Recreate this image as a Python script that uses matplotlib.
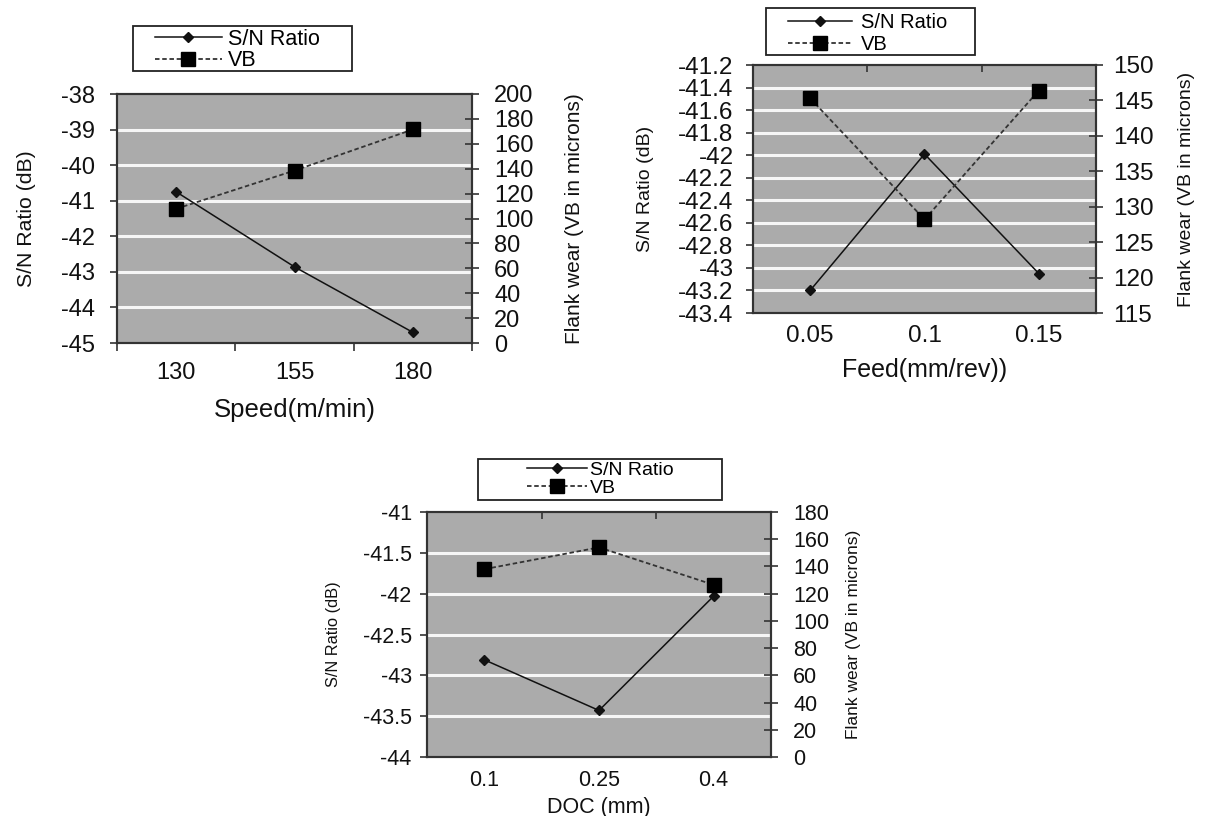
import matplotlib
matplotlib.use("Agg")
import matplotlib.pyplot as plt
from matplotlib.lines import Line2D
from matplotlib.patches import Rectangle

plt.rcParams['font.family'] = ['Liberation Sans', 'DejaVu Sans']

# ---- data -------------------------------------------------------------
speed_levels = ["130", "155", "180"]
speed_sn = [-40.75, -42.86, -44.70]
speed_vb = [107.8, 138.5, 171.5]

feed_levels = ["0.05", "0.1", "0.15"]
feed_sn = [-43.20, -41.99, -43.05]
feed_vb = [145.3, 128.2, 146.4]

doc_levels = ["0.1", "0.25", "0.4"]
doc_sn = [-42.81, -43.43, -42.03]
doc_vb = [138.0, 154.0, 126.5]

W, H = 1211, 816
fig = plt.figure(figsize=(W / 100, H / 100), dpi=100)

FACE = "#ababab"
GRID = "#f6f6f6"
FRAME = "#333333"
TXT = "#111111"

SN_STYLE = dict(color='#111111', lw=1.1, marker='D', ms=5.5,
                mfc='#111111', mec='#111111')
VB_STYLE = dict(color='#333333', lw=1.3, ls=(0, (2.5, 1.5)), marker='s',
                ms=9.5, mfc='#000000', mec='#000000')


def px_rect(l, t, r, b):
    return [l / W, 1 - b / H, (r - l) / W, (b - t) / H]


def fmt(v):
    return f"{v:g}"


def panel(box, cats, sn, vb, left_ticks, right_ticks, xlabel, fs, pads,
          label_px, legend_box, legend_anchor, handle_px, top_ticks):
    l, t, r, b = box
    ax = fig.add_axes(px_rect(l, t, r, b))
    ax.set_facecolor(FACE)
    x = list(range(len(cats)))

    ax.set_xlim(-0.5, len(cats) - 0.5)
    ax.set_ylim(left_ticks[0], left_ticks[-1])
    ax.set_yticks(left_ticks)
    ax.set_yticklabels([fmt(v) for v in left_ticks])
    for v in left_ticks[1:-1]:
        ax.axhline(v, color=GRID, lw=2.2, zorder=0.5)

    ax.set_xticks(x)
    ax.set_xticklabels(cats)
    bounds = [i - 0.5 for i in range(len(cats) + 1)]
    ax.set_xticks(bounds, minor=True)
    ax.tick_params(axis='x', which='major', length=0, pad=pads['x'],
                   labelsize=fs['tick'], colors=TXT)
    if top_ticks:
        ax.tick_params(axis='x', which='minor', bottom=False, top=True,
                       direction='in', length=5, width=1.2, color=FRAME)
    else:
        ax.tick_params(axis='x', which='minor', bottom=True, top=False,
                       direction='out', length=6, width=1.2, color=FRAME)
    ax.tick_params(axis='y', direction='out', length=5, width=1.2,
                   color=FRAME, pad=pads['l'], labelsize=fs['tick'],
                   labelcolor=TXT)
    for s in ax.spines.values():
        s.set_color(FRAME)
        s.set_linewidth(1.5)

    ax2 = ax.twinx()
    ax2.set_ylim(right_ticks[0], right_ticks[-1])
    ax2.set_yticks(right_ticks)
    ax2.set_yticklabels([fmt(v) for v in right_ticks])
    ax2.tick_params(axis='y', direction='inout', length=10, width=1.2,
                    color=FRAME, pad=pads['r'], labelsize=fs['tick'],
                    labelcolor=TXT)
    for s in ax2.spines.values():
        s.set_color(FRAME)
        s.set_linewidth(1.5)

    ax.plot(x, sn, zorder=3, **SN_STYLE)
    ax2.plot(x, vb, zorder=3, **VB_STYLE)

    # axis titles
    ax.set_ylabel("S/N Ratio (dB)", fontsize=fs['ylab'], color=TXT)
    ax.yaxis.set_label_coords((label_px['yl'] - l) / (r - l), 0.5)
    ax2.set_ylabel("Flank wear (VB in microns)", fontsize=fs['yrlab'],
                   color=TXT)
    ax2.yaxis.set_label_coords((label_px['yr'] - l) / (r - l), 0.5)
    ax.set_xlabel(xlabel, fontsize=fs['xlab'], color=TXT)
    ax.xaxis.set_label_coords(0.5, (b - label_px['x']) / (b - t))
    for lab in (ax.yaxis.label, ax2.yaxis.label, ax.xaxis.label):
        lab.set_va('center')
        lab.set_ha('center')

    # legend: framed box with the two series keys
    bl, bt, br, bb = legend_box
    fig.patches.append(Rectangle((bl / W, 1 - bb / H), (br - bl) / W,
                                 (bb - bt) / H, transform=fig.transFigure,
                                 facecolor='white', edgecolor='#222222',
                                 lw=1.3, zorder=1))
    handles = [Line2D([], [], **SN_STYLE), Line2D([], [], **VB_STYLE)]
    fpx = fs['leg'] * 100 / 72
    hx0, hx1, tx, cy, rowgap = handle_px
    fig.legend(handles, ["S/N Ratio", "VB"], loc='center left',
               bbox_to_anchor=(hx0 / W, 1 - cy / H),
               fontsize=fs['leg'], handlelength=(hx1 - hx0) / fpx,
               handletextpad=(tx - hx1) / fpx,
               labelspacing=(rowgap - fpx) / fpx, borderpad=0,
               borderaxespad=0, frameon=False)
    return ax, ax2


panel((117, 94, 472, 343), speed_levels, speed_sn, speed_vb,
      [-45, -44, -43, -42, -41, -40, -39, -38],
      list(range(0, 201, 20)), "Speed(m/min)",
      fs=dict(tick=17, ylab=15.3, yrlab=15, xlab=18.5, leg=15.5),
      pads=dict(x=14, l=11, r=11),
      label_px=dict(yl=26, yr=575, x=410),
      legend_box=(133, 26, 352, 71),
      legend_anchor=None, handle_px=(155, 222, 228, 50, 22),
      top_ticks=False)

panel((753, 65, 1096, 313), feed_levels, feed_sn, feed_vb,
      [-43.4, -43.2, -43.0, -42.8, -42.6, -42.4, -42.2, -42.0, -41.8,
       -41.6, -41.4, -41.2],
      list(range(115, 151, 5)), "Feed(mm/rev))",
      fs=dict(tick=17.5, ylab=14, yrlab=14, xlab=18, leg=14.5),
      pads=dict(x=9, l=9, r=7),
      label_px=dict(yl=646, yr=1187, x=370),
      legend_box=(766, 8, 975, 55),
      legend_anchor=None, handle_px=(788, 852, 861, 33.5, 23),
      top_ticks=True)

panel((427, 512, 771, 757), doc_levels, doc_sn, doc_vb,
      [-44, -43.5, -43, -42.5, -42, -41.5, -41],
      list(range(0, 181, 20)), "DOC (mm)",
      fs=dict(tick=15.5, ylab=11.8, yrlab=12.5, xlab=15.5, leg=14),
      pads=dict(x=9, l=6, r=11),
      label_px=dict(yl=333, yr=854, x=807),
      legend_box=(478, 459, 722, 500),
      legend_anchor=None, handle_px=(527, 587, 590, 479, 20),
      top_ticks=True)

fig.savefig("out.png", dpi=100, facecolor='white')
